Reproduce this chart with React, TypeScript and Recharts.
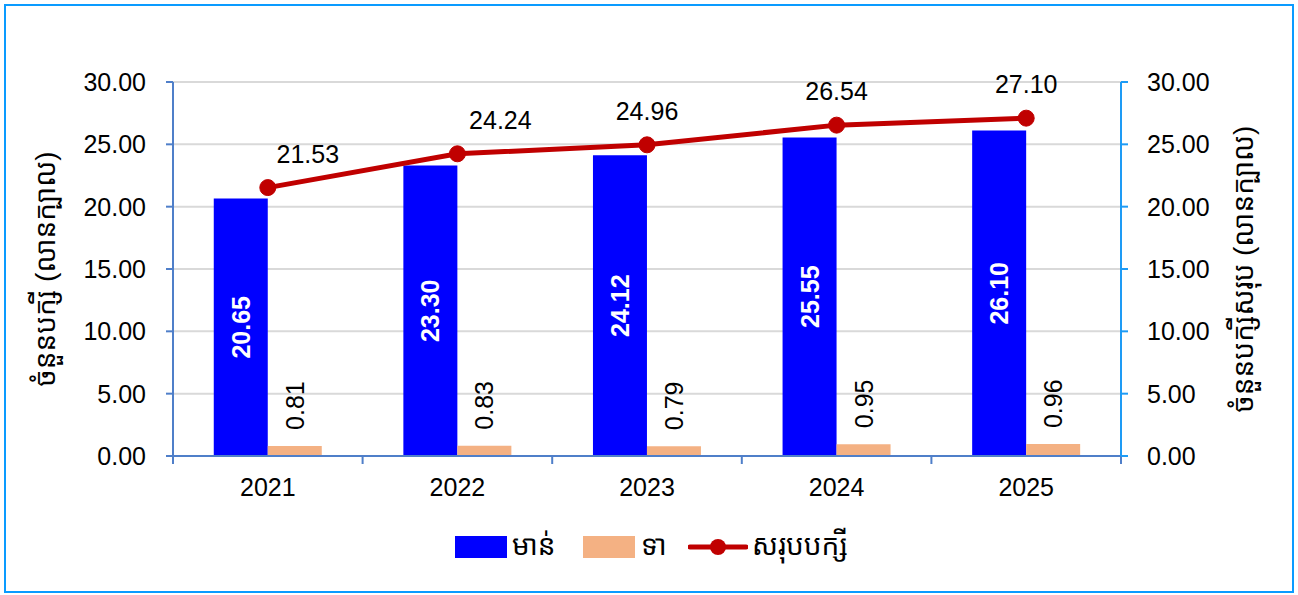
import React from "react";
import {
  ComposedChart,
  Bar,
  Line,
  XAxis,
  YAxis,
  CartesianGrid,
  LabelList,
} from "recharts";

const years = ["2021", "2022", "2023", "2024", "2025"];
const chicken = [20.65, 23.3, 24.12, 25.55, 26.1];
const duck = [0.81, 0.83, 0.79, 0.95, 0.96];
const totalBirds = [21.53, 24.24, 24.96, 26.54, 27.1];
const yTicks = [0, 5, 10, 15, 20, 25, 30];
const boundaryTicks = [0, 1, 2, 3, 4, 5];

const seriesNames = { chicken: "មាន់", duck: "ទា", total: "សរុបបក្សី" };
const leftAxisTitle = "ចំនួនបក្សី (លានក្បាល)";
const rightAxisTitle = "ចំនួនបក្សីសរុប (លានក្បាល)";

// style: horizontal shift of total-line labels (per point)
const totalLabelShift = [40, 43, 0, 0, 0];

const data = years.map((y, i) => ({
  year: y,
  chicken: chicken[i],
  duck: duck[i],
  total: totalBirds[i],
}));

const FONT = "'Liberation Sans', Arial, 'Noto Sans', 'Noto Sans Khmer', sans-serif";
const NUM_SIZE = 25;
const BLUE = "#0000FF";
const ORANGE = "#F4B183";
const RED = "#C00000";
const AXIS_LEFT = "#4F7FC9";
const AXIS_RIGHT = "#1E9BF5";

const ChickenLabel = (props: any) => {
  const { x, y, width, height, value } = props;
  const cx = x + width / 2;
  const cy = y + height / 2;
  return (
    <text
      x={cx}
      y={cy}
      dy="0.36em"
      textAnchor="middle"
      transform={`rotate(-90, ${cx}, ${cy})`}
      fill="#FFFFFF"
      fontWeight="bold"
      fontSize={NUM_SIZE}
      fontFamily={FONT}
    >
      {Number(value).toFixed(2)}
    </text>
  );
};

const DuckLabel = (props: any) => {
  const { x, y, width, value } = props;
  const cx = x + width / 2;
  const cy = y - 16;
  return (
    <text
      x={cx}
      y={cy}
      dy="0.36em"
      textAnchor="start"
      transform={`rotate(-90, ${cx}, ${cy})`}
      fill="#000000"
      fontSize={NUM_SIZE}
      fontFamily={FONT}
    >
      {Number(value).toFixed(2)}
    </text>
  );
};

const TotalLabel = (props: any) => {
  const { x, y, value, index } = props;
  const cx = x + (totalLabelShift[index] || 0);
  const cy = y - 34;
  return (
    <text
      x={cx}
      y={cy}
      dy="0.36em"
      textAnchor="middle"
      fill="#000000"
      fontSize={NUM_SIZE}
      fontFamily={FONT}
    >
      {Number(value).toFixed(2)}
    </text>
  );
};

const LeftTitle = (props: any) => {
  const vb = props.viewBox || {};
  const cx = 45;
  const cy = vb.y + vb.height / 2;
  return (
    <text
      x={cx}
      y={cy}
      dy="0.36em"
      textAnchor="middle"
      transform={`rotate(-90, ${cx}, ${cy})`}
      fill="#000000"
      fontSize={28}
      fontFamily={FONT}
    >
      {leftAxisTitle}
    </text>
  );
};

const RightTitle = (props: any) => {
  const vb = props.viewBox || {};
  const cx = 1243;
  const cy = vb.y + vb.height / 2;
  return (
    <text
      x={cx}
      y={cy}
      dy="0.36em"
      textAnchor="middle"
      transform={`rotate(-90, ${cx}, ${cy})`}
      fill="#000000"
      fontSize={28}
      fontFamily={FONT}
    >
      {rightAxisTitle}
    </text>
  );
};

const EmptyTick = () => <g />;
const zeroKey = () => 0;

const fmt = (v: number) => v.toFixed(2);

export default function App() {
  return (
    <div style={{ position: "relative", width: 1298, height: 595 }}>
      <style>{"body{margin:0;}"}</style>
      <div
        style={{
          position: "absolute",
          left: 4,
          top: 4,
          width: 1290,
          height: 589,
          boxSizing: "border-box",
          border: "2px solid #0A9BFF",
          background: "#FFFFFF",
        }}
      />
      <div style={{ position: "absolute", left: 0, top: 0 }}>
        <ComposedChart
          width={1298}
          height={595}
          data={data}
          margin={{ top: 82, right: 0, bottom: 99, left: 0 }}
          barCategoryGap="21.5%"
          barGap={0}
        >
          <CartesianGrid
            xAxisId="b"
            yAxisId="left"
            vertical={false}
            stroke="#D9D9D9"
            strokeWidth={2}
          />
          <XAxis
            xAxisId="a"
            type="number"
            dataKey={zeroKey}
            domain={[0, 5]}
            allowDataOverflow={true}
            ticks={boundaryTicks}
            interval={0}
            tick={<EmptyTick />}
            tickSize={8}
            height={1}
            axisLine={{ stroke: AXIS_LEFT, strokeWidth: 2 }}
            tickLine={{ stroke: AXIS_LEFT, strokeWidth: 2 }}
          />
          <XAxis
            xAxisId="b"
            dataKey="year"
            axisLine={false}
            tickLine={false}
            tickSize={0}
            tickMargin={21}
            height={39}
            tick={{ fill: "#000000", fontSize: NUM_SIZE, fontFamily: FONT }}
          />
          <YAxis
            yAxisId="left"
            domain={[0, 30]}
            ticks={yTicks}
            tickFormatter={fmt}
            width={173}
            tickSize={7}
            tickMargin={20}
            axisLine={{ stroke: AXIS_LEFT, strokeWidth: 2 }}
            tickLine={{ stroke: AXIS_LEFT, strokeWidth: 2 }}
            tick={{ fill: "#000000", fontSize: NUM_SIZE, fontFamily: FONT }}
            label={<LeftTitle />}
          />
          <YAxis
            yAxisId="right"
            orientation="right"
            domain={[0, 30]}
            ticks={yTicks}
            tickFormatter={fmt}
            width={177}
            tickSize={7}
            tickMargin={19}
            axisLine={{ stroke: AXIS_RIGHT, strokeWidth: 2 }}
            tickLine={{ stroke: AXIS_RIGHT, strokeWidth: 2 }}
            tick={{ fill: "#000000", fontSize: NUM_SIZE, fontFamily: FONT }}
            label={<RightTitle />}
          />
          <Bar
            xAxisId="b"
            yAxisId="left"
            dataKey="chicken"
            name={seriesNames.chicken}
            fill={BLUE}
            isAnimationActive={false}
          >
            <LabelList dataKey="chicken" content={<ChickenLabel />} />
          </Bar>
          <Bar
            xAxisId="b"
            yAxisId="left"
            dataKey="duck"
            name={seriesNames.duck}
            fill={ORANGE}
            isAnimationActive={false}
          >
            <LabelList dataKey="duck" content={<DuckLabel />} />
          </Bar>
          <Line
            xAxisId="b"
            yAxisId="right"
            dataKey="total"
            name={seriesNames.total}
            stroke={RED}
            strokeWidth={5}
            dot={{ r: 8, fill: RED, stroke: RED, strokeWidth: 1 }}
            activeDot={false}
            isAnimationActive={false}
          >
            <LabelList dataKey="total" content={<TotalLabel />} />
          </Line>
        </ComposedChart>
      </div>
      <div
        style={{
          position: "absolute",
          top: 528,
          left: 0,
          width: 1298,
          height: 36,
          fontFamily: FONT,
          fontSize: 28,
          color: "#000000",
        }}
      >
        <div style={{ position: "absolute", left: 455, top: 8, width: 52, height: 22, background: BLUE }} />
        <div style={{ position: "absolute", left: 512, top: 0, lineHeight: "36px", whiteSpace: "nowrap" }}>
          {seriesNames.chicken}
        </div>
        <div style={{ position: "absolute", left: 583, top: 8, width: 52, height: 22, background: ORANGE }} />
        <div style={{ position: "absolute", left: 641, top: 0, lineHeight: "36px", whiteSpace: "nowrap" }}>
          {seriesNames.duck}
        </div>
        <svg style={{ position: "absolute", left: 688, top: 1 }} width={60} height={36}>
          <line x1={2} y1={18} x2={58} y2={18} stroke={RED} strokeWidth={5} strokeLinecap="round" />
          <circle cx={30} cy={18} r={8} fill={RED} />
        </svg>
        <div style={{ position: "absolute", left: 752, top: 0, lineHeight: "36px", whiteSpace: "nowrap" }}>
          {seriesNames.total}
        </div>
      </div>
    </div>
  );
}
